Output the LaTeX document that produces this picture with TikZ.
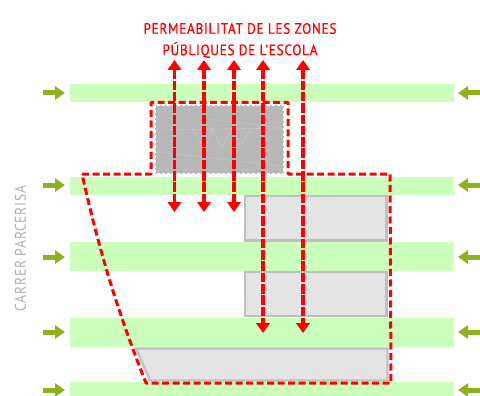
\documentclass[tikz,border=0pt]{standalone}
\usepackage{fontspec}
\setmainfont{PT Sans}
\usetikzlibrary{arrows.meta}
\definecolor{bandgreen}{RGB}{204,255,188}
\definecolor{arrowgreen}{RGB}{142,178,30}
\definecolor{redline}{RGB}{255,0,0}
\definecolor{blockfill}{RGB}{228,228,228}
\definecolor{blockline}{RGB}{192,192,192}
\definecolor{schoolfill}{RGB}{184,184,184}
\definecolor{labelgrey}{RGB}{176,176,176}
\tikzset{
  band/.style={fill=bandgreen,draw=none},
  blockshape/.style={fill=blockfill,draw=blockline,line width=2.2pt,line join=miter},
  school/.style={draw=white,line width=1.5pt,densely dashed},
  schoolmark/.style={draw=white!88!schoolfill,line width=.3pt,opacity=.4},
  outline/.style={draw=redline,line width=3pt,dash pattern=on 7pt off 3.5pt},
  through/.style={draw=redline,line width=3.6pt,dash pattern=on 9.5pt off 1.8pt,
    {Triangle[length=10pt,width=13.5pt]}-{Triangle[length=10pt,width=13.5pt]}},
  access/.style={draw=arrowgreen,line width=5pt,-{Triangle[length=10pt,width=13pt]}},
  heading/.style={text=redline,font=\fontsize{15}{16}\selectfont\addfontfeatures{FakeStretch=.88,FakeBold=0.6,LetterSpace=5},inner sep=0pt,anchor=center},
  sidelabel/.style={text=labelgrey,font=\fontsize{15.5}{16}\selectfont\addfontfeatures{FakeStretch=.88,LetterSpace=5},inner sep=0pt,anchor=center,rotate=90}
}
\begin{document}
\begin{tikzpicture}[x=1pt,y=-1pt]
\useasboundingbox (0,0) rectangle (480,396);
% green bands
\foreach \t/\b in {84/102.5,176.5/194.5,242/270.5,318/346.5,382/396}
  \fill[band] (70,\t) rectangle (454,\b);
% side arrows
\foreach \n/\y in {a/93,b/185,c/257,d/332,e/390}{
  \coordinate (l\n s) at (43,\y); \coordinate (l\n e) at (65,\y);
  \coordinate (r\n s) at (480,\y); \coordinate (r\n e) at (458,\y);
  \draw[access] (l\n s) -- (l\n e);
  \draw[access] (r\n s) -- (r\n e);
}
% buildings
\draw[blockshape] (245,196) rectangle (386.5,240.5);
\draw[blockshape] (245,272) rectangle (386.5,316);
\draw[blockshape] (136,348.5) -- (387.5,348.5) -- (387.5,380.5) -- (150,380.5) -- cycle;
\fill[schoolfill] (155,105) rectangle (284,173.5);
\draw[school] (155,105) rectangle (284,173.5);
\draw[schoolmark] (157,130) -- (282,128);
\draw[schoolmark] (157,152) -- (282,166);
\draw[schoolmark] (200,118) -- (282,128);
\draw[schoolmark] (192,128) -- (205,150) -- (212,128) -- (222,148) -- (232,128) -- (240,146) -- (250,130);
% red perimeter
\draw[outline,line join=round] (82,174) -- (151,174) -- (151,102.5) -- (288,102.5) -- (288,174) -- (390,174) -- (391,383) -- (146,383) .. controls (120,318) and (100,255) .. cycle;
% permeability arrows
\foreach \n/\x/\e in {p/174.5/212,q/204/212,s/234/212,u/263/333,v/303/333}{
  \coordinate (\n t) at (\x,60); \coordinate (\n b) at (\x,\e);
  \draw[through] (\n t) -- (\n b);
}
% labels
\node[heading] (title1) at (240,28.5) {PERMEABILITAT DE LES ZONES};
\node[heading] (title2) at (240,50) {PÚBLIQUES DE L'ESCOLA};
\node[sidelabel] (side) at (20.5,248.5) {CARRER PARCERISA};
\end{tikzpicture}
\end{document}
